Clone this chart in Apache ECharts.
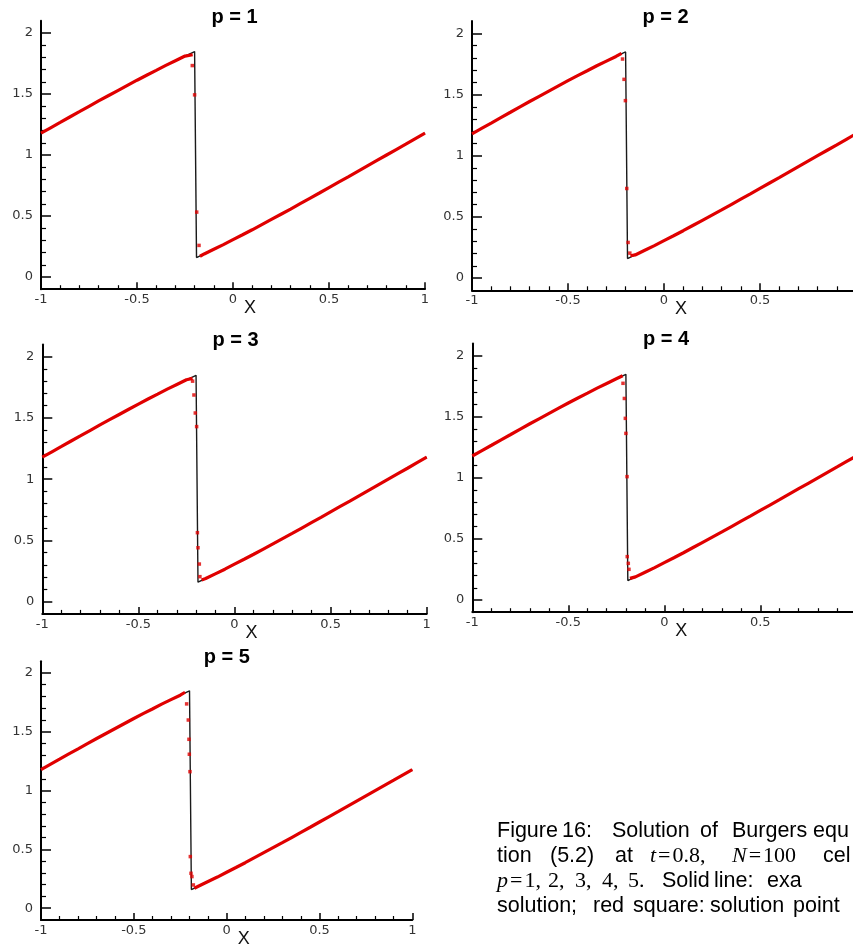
<!DOCTYPE html>
<html>
<head>
<meta charset="utf-8">
<script src="https://cdn.jsdelivr.net/npm/echarts@6/dist/echarts.min.js"></script>
<style>
  html, body { margin: 0; padding: 0; background: #fff; }
  #chart { width: 853px; height: 944px; }
</style>
</head>
<body>
<div id="chart"></div>
<script>
// Exact solution of Burgers equation at t = 0.8 (left and right of the shock)
const xExactLeft  = [-1, -0.95, -0.9, -0.85, -0.8, -0.75, -0.7, -0.65, -0.6, -0.55, -0.5,
                     -0.45, -0.4, -0.35, -0.3, -0.25, -0.2];
const uExactLeft  = [1.179, 1.223, 1.267, 1.3115, 1.355, 1.399, 1.443, 1.4855, 1.528, 1.5705, 1.613,
                     1.654, 1.694, 1.735, 1.773, 1.811, 1.848];
const xExactRight = [-0.19, -0.15, -0.1, -0.05, 0, 0.05, 0.1, 0.15, 0.2, 0.25, 0.3, 0.35, 0.4,
                     0.45, 0.5, 0.55, 0.6, 0.65, 0.7, 0.75, 0.8, 0.85, 0.9, 0.95, 1];
const uExactRight = [0.159, 0.189, 0.227, 0.265, 0.306, 0.346, 0.387, 0.4295, 0.472, 0.5145, 0.557, 0.601, 0.645,
                     0.6885, 0.733, 0.777, 0.821, 0.866, 0.911, 0.9555, 1.0, 1.0445, 1.089, 1.134, 1.179];

// Numerical solution: the smooth part follows the exact curve; near the shock
// each polynomial degree p has its own last point, shock points and first point.
const panelTitles = ['p = 1', 'p = 2', 'p = 3', 'p = 4', 'p = 5'];
const numLeftEnd = [
  [-0.21, 1.822], [-0.221, 1.837], [-0.218, 1.823], [-0.217, 1.836], [-0.224, 1.836]
];
const numShock = [
  [[-0.212, 1.733], [-0.2, 1.493], [-0.189, 0.532], [-0.177, 0.259]],
  [[-0.216, 1.79], [-0.208, 1.624], [-0.201, 1.45], [-0.194, 0.732], [-0.187, 0.291], [-0.178, 0.204]],
  [[-0.218, 1.80], [-0.211, 1.687], [-0.204, 1.54], [-0.197, 1.429], [-0.193, 0.563], [-0.19, 0.44], [-0.183, 0.307], [-0.18, 0.204]],
  [[-0.215, 1.774], [-0.208, 1.65], [-0.203, 1.487], [-0.2, 1.364], [-0.194, 1.01], [-0.193, 0.355], [-0.1875, 0.30], [-0.184, 0.251]],
  [[-0.2155, 1.737], [-0.2065, 1.60], [-0.203, 1.436], [-0.201, 1.309], [-0.1975, 1.161], [-0.1957, 0.439], [-0.192, 0.297], [-0.187, 0.269], [-0.1795, 0.198]]
];
const numRightStart = [
  [-0.172, 0.17], [-0.175, 0.182], [-0.171, 0.177], [-0.179, 0.177], [-0.174, 0.17]
];

// Axis ticks
const xTicks = [-1, -0.5, 0, 0.5, 1];
const xMinorTicks = [-0.9, -0.8, -0.7, -0.6, -0.4, -0.3, -0.2, -0.1, 0.1, 0.2, 0.3, 0.4, 0.6, 0.7, 0.8, 0.9];
const yTicks = [0, 0.5, 1, 1.5, 2];
const yMinorTicks = [0.1, 0.2, 0.3, 0.4, 0.6, 0.7, 0.8, 0.9, 1.1, 1.2, 1.3, 1.4, 1.6, 1.7, 1.8, 1.9];

// Panel frames (pixels)
const frames = [
  { left: 41,   top: 20.8,  width: 384,   height: 268.4, tx: 234.5, ty: 17 },
  { left: 472,  top: 21.1,  width: 384,   height: 269.2, tx: 665.5, ty: 17 },
  { left: 42.3, top: 344.4, width: 384.4, height: 269.5, tx: 235.5, ty: 340.5 },
  { left: 472.3,top: 343.5, width: 384,   height: 268.7, tx: 666,   ty: 339.5 },
  { left: 41,   top: 661.2, width: 371.3, height: 258.8, tx: 226.7, ty: 657.5 }
];

const zip = (xs, ys) => xs.map((x, i) => [x, ys[i]]);
const exactData = zip(xExactLeft, uExactLeft).concat(zip(xExactRight, uExactRight));
const smoothLeft = zip(xExactLeft, uExactLeft).filter(d => d[0] <= -0.25);
const smoothRight = zip(xExactRight, uExactRight).filter(d => d[0] >= -0.15);

const RED = '#e00000';
const labelStyle = { color: '#333', fontSize: 13, fontFamily: 'DejaVu Sans' };

const grids = [], xAxes = [], yAxes = [], series = [], graphics = [];

frames.forEach((f, i) => {
  grids.push({ left: f.left, top: f.top, width: f.width, height: f.height,
               containLabel: false, outerBoundsMode: 'none' });

  // major x axis with labels
  xAxes.push({
    type: 'value', gridIndex: i, min: -1, max: 1, position: 'bottom',
    axisLine: { show: true, onZero: false, lineStyle: { color: '#000', width: 2 } },
    axisTick: { show: true, inside: true, length: 7, customValues: xTicks,
                lineStyle: { color: '#000', width: 1.5 } },
    axisLabel: Object.assign({ show: true, margin: 4, customValues: xTicks }, labelStyle),
    splitLine: { show: false },
    name: 'X', nameLocation: 'middle', nameGap: 10, nameMoveOverlap: false,
    nameTextStyle: { color: '#111', fontSize: 18, fontFamily: 'Liberation Sans',
                     padding: [0, 0, 0, 34] }
  });
  // minor x ticks
  xAxes.push({
    type: 'value', gridIndex: i, min: -1, max: 1, position: 'bottom',
    axisLine: { show: false, onZero: false },
    axisTick: { show: true, inside: true, length: 4, customValues: xMinorTicks,
                lineStyle: { color: '#000', width: 1.2 } },
    axisLabel: { show: false }, splitLine: { show: false }
  });
  // major y axis with labels
  yAxes.push({
    type: 'value', gridIndex: i, min: -0.1, max: 2.1, position: 'left',
    axisLine: { show: true, onZero: false, lineStyle: { color: '#000', width: 2 } },
    axisTick: { show: true, inside: true, length: 10, customValues: yTicks,
                lineStyle: { color: '#000', width: 1.5 } },
    axisLabel: Object.assign({ show: true, margin: 8, customValues: yTicks }, labelStyle),
    splitLine: { show: false }
  });
  // minor y ticks
  yAxes.push({
    type: 'value', gridIndex: i, min: -0.1, max: 2.1, position: 'left',
    axisLine: { show: false, onZero: false },
    axisTick: { show: true, inside: true, length: 5, customValues: yMinorTicks,
                lineStyle: { color: '#000', width: 1.2 } },
    axisLabel: { show: false }, splitLine: { show: false }
  });

  const xi = 2 * i, yi = 2 * i;
  // exact solution: thin black line
  series.push({
    type: 'line', xAxisIndex: xi, yAxisIndex: yi, data: exactData,
    showSymbol: false, z: 2, silent: true,
    lineStyle: { color: '#1a1a1a', width: 1.4 }
  });
  // numerical solution points (smooth parts drawn as densely packed red squares)
  series.push({
    type: 'line', xAxisIndex: xi, yAxisIndex: yi,
    data: smoothLeft.concat([numLeftEnd[i]]),
    showSymbol: false, z: 3, silent: true,
    lineStyle: { color: RED, width: 3.2 }
  });
  series.push({
    type: 'line', xAxisIndex: xi, yAxisIndex: yi,
    data: [numRightStart[i]].concat(smoothRight),
    showSymbol: false, z: 3, silent: true,
    lineStyle: { color: RED, width: 3.2 }
  });
  series.push({
    type: 'scatter', xAxisIndex: xi, yAxisIndex: yi, data: numShock[i],
    symbol: 'rect', symbolSize: 3.5, z: 4, silent: true,
    itemStyle: { color: RED }
  });

  graphics.push({
    type: 'text', x: f.tx, y: f.ty, silent: true,
    style: { text: panelTitles[i], textAlign: 'center', textVerticalAlign: 'middle',
             font: 'bold 20px "Liberation Sans"', fill: '#000' }
  });
});

// Caption, laid out word by word as a justified paragraph
const capRich = {
  s: { fontFamily: 'Liberation Sans', fontSize: 21.5, color: '#000' },
  i: { fontFamily: 'Liberation Serif', fontStyle: 'italic', fontSize: 22, color: '#000' },
  r: { fontFamily: 'Liberation Serif', fontSize: 22, color: '#000' },
  e: { fontFamily: 'Liberation Serif', fontSize: 22, color: '#000', padding: [0, 2] }
};
const captionLines = [831, 856, 881, 906];
const captionWords = [
  ['{s|Figure}', 497, 0], ['{s|16:}', 562, 0], ['{s|Solution}', 612, 0], ['{s|of}', 700, 0],
  ['{s|Burgers}', 732, 0], ['{s|equ}', 813, 0],
  ['{s|tion}', 497, 1], ['{s|(5.2)}', 550, 1], ['{s|at}', 615, 1],
  ['{i|t}{e|=}{r|0.8,}', 650, 1], ['{i|N}{e|=}{r|100}', 732, 1], ['{s|cel}', 823, 1],
  ['{i|p}{e|=}{r|1,}', 497, 2], ['{r|2,}', 548, 2], ['{r|3,}', 575, 2], ['{r|4,}', 602, 2],
  ['{r|5.}', 628, 2], ['{s|Solid}', 662, 2], ['{s|line:}', 714, 2], ['{s|exa}', 767, 2],
  ['{s|solution;}', 497, 3], ['{s|red}', 593, 3], ['{s|square:}', 633, 3],
  ['{s|solution}', 710, 3], ['{s|point}', 793, 3]
];
captionWords.forEach(([t, x, line]) => {
  graphics.push({
    type: 'text', x: x, y: captionLines[line], silent: true,
    style: { text: t, rich: capRich, textAlign: 'left', textVerticalAlign: 'middle',
             font: '21.5px "Liberation Sans"', fill: '#000' }
  });
});

const chart = echarts.init(document.getElementById('chart'), null, { renderer: 'canvas' });
chart.setOption({
  animation: false,
  backgroundColor: '#fff',
  grid: grids,
  xAxis: xAxes,
  yAxis: yAxes,
  series: series,
  graphic: graphics
});
</script>
</body>
</html>
